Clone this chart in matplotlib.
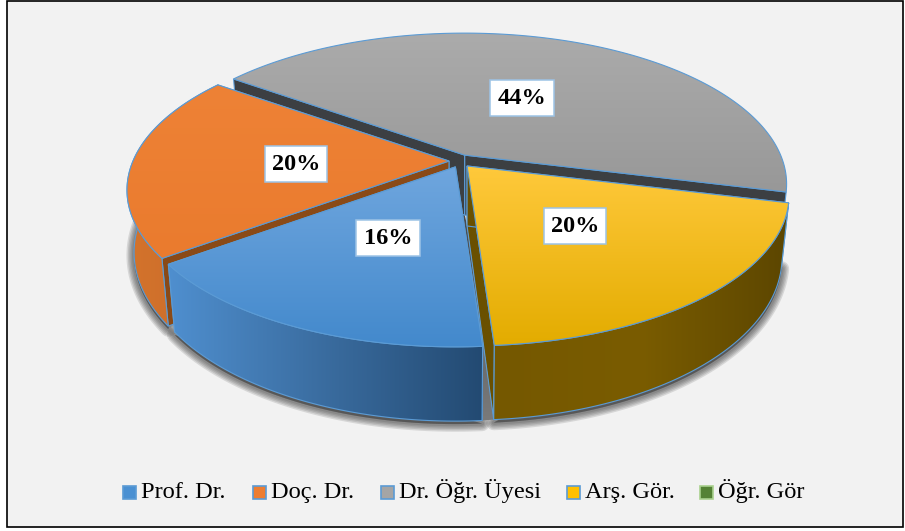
import numpy as np
import matplotlib
matplotlib.use("Agg")
import matplotlib.pyplot as plt
from matplotlib.colors import to_rgb
from matplotlib.patches import Polygon, Rectangle

# Data
categories = ["Prof. Dr.", "Doç. Dr.", "Dr. Öğr. Üyesi", "Arş. Gör.", "Öğr. Gör"]
shares = [16, 20, 44, 20, 0]

# Legend and label layout (pixels)
legend_x = [123, 253, 381, 567, 700]
label_pos = [(388, 238), (296, 164), (522, 98), (575, 226)]
legend_fill = ["#4a90d2", "#ed7d31", "#a5a5a5", "#ffc000", "#548235"]
legend_edge = ["#5b9bd5", "#5b9bd5", "#5b9bd5", "#5b9bd5", "#a9d18e"]

# Colours per slice: top gradient, outer wall gradient, radial face
top_cols = [["#6fa6de", "#4389cc"], ["#ee8236", "#ea7b2e"],
            ["#ababab", "#989898"], ["#ffc93c", "#e3ac00"]]
wall_cols = [["#4f8fcf", "#3a6c9f", "#234a72"], ["#d4732c", "#c86c2a"],
             None, ["#755800", "#7a5c00", "#5c4600"]]
face_cols = ["#234a72", "#8a4a17", "#3c3f42", "#6a5000"]

# Projection of the tilted pie
CX, CY = 460, 161
A, B, P = 316, 145.4, 0.192
DEPTH = 60
BOTTOM_X = 0.978
EXPLODE_X, EXPLODE_Y = 11, 6.5
START = 274

fig = plt.figure(figsize=(9.05, 5.31), dpi=100)
ax = fig.add_axes([0, 0, 1, 1])
ax.axis("off")
fig.patch.set_facecolor("white")


def project(t):
    u, v = np.cos(t), np.sin(t)
    s = 1 / (1 + P * v)
    return A * u * s, -B * v * s, DEPTH * s


def fill_grad(pts, cols, z, vertical=False, edge="#5b9bd5"):
    pts = np.array(pts)
    x0, y0 = pts.min(axis=0)
    x1, y1 = pts.max(axis=0)
    rgb = np.array([to_rgb(c) for c in cols])
    pos = np.linspace(0, 1, len(cols))
    ramp = np.linspace(0, 1, 200)
    arr = np.stack([np.interp(ramp, pos, rgb[:, i]) for i in range(3)], axis=-1)
    arr = arr[:, None, :] if vertical else arr[None, :, :]
    clip = Polygon(pts, closed=True, fc="none", ec="none", zorder=z)
    ax.add_patch(clip)
    im = ax.imshow(arr, extent=[x0, x1, y1, y0], aspect="auto", zorder=z,
                   interpolation="bilinear", origin="upper")
    im.set_clip_path(clip)
    if edge:
        ax.add_patch(Polygon(pts, closed=True, fc="none", ec=edge, lw=0.8, zorder=z + 0.1))


# Background and frame
ax.add_patch(Rectangle((6.5, 0.5), 896, 526.5, fc="#f2f2f2", ec="black", lw=1.2, zorder=0))

# Slice geometry from the shares
total = sum(shares)
angles = START - np.cumsum([0] + shares) / total * 360
slices = []
for i in range(4):
    t0, t1 = np.radians(angles[i]), np.radians(angles[i + 1])
    mid = (t0 + t1) / 2
    cx = CX + EXPLODE_X * np.cos(mid)
    cy = CY - EXPLODE_Y * np.sin(mid)
    ts = np.linspace(t0, t1, 160)
    xs, ys, ds = project(ts)
    slices.append(dict(apex=(cx, cy), x=cx + xs, y=cy + ys, d=ds,
                       bx=cx + xs * BOTTOM_X, by=cy + ys + ds))

# Soft shadow under the pie
for i in [0, 1, 3]:
    s = slices[i]
    outline = np.column_stack([s["bx"], s["by"]])
    for lw in [11, 9, 7, 5, 3]:
        ax.add_patch(Polygon(outline + [0, 3], closed=True, fc="#303030", ec="#303030",
                             lw=lw, alpha=0.14, zorder=1, joinstyle="round"))

# Dark gap between the blue and yellow slices
blue, yellow = slices[0], slices[3]
gap = [blue["apex"], (blue["bx"][0], blue["by"][0]), (yellow["bx"][-1], yellow["by"][-1]),
       (yellow["apex"][0], yellow["apex"][1] + DEPTH)]
fill_grad(gap, ["#3c3f42", "#7a7a7a"], 1.5, vertical=True, edge=None)

# Back to front
z = 2
for i in [2, 1, 3, 0]:
    s = slices[i]
    cx, cy = s["apex"]
    x, y = s["x"], s["y"]
    bx, by = s["bx"], s["by"]
    # radial faces
    for k in [-1, 0]:
        face = [(cx, cy), (x[k], y[k]), (bx[k], by[k]), (cx, cy + DEPTH)]
        fill_grad(face, [face_cols[i], face_cols[i]], z)
        z += 1
    # outer wall
    if wall_cols[i]:
        wall = np.vstack([np.column_stack([x, y]), np.column_stack([bx, by])[::-1]])
        fill_grad(wall, wall_cols[i], z)
        z += 1
    # top
    top = np.vstack([[cx, cy], np.column_stack([x, y])])
    fill_grad(top, top_cols[i], z, vertical=True)
    z += 1

# Percent labels
for share, (lx, ly) in zip(shares, label_pos):
    ax.text(lx, ly, f"{share}%", ha="center", va="center", family="Liberation Serif",
            fontweight="bold", fontsize=17.5, color="black", zorder=z,
            bbox=dict(boxstyle="square,pad=0.3", fc="white", ec="#9dc3e6", lw=1.1))

# Legend
for name, lx, fc, ec in zip(categories, legend_x, legend_fill, legend_edge):
    ax.add_patch(Rectangle((lx, 486), 13, 13, fc=fc, ec=ec, lw=1.2, zorder=z))
    ax.text(lx + 18, 498, name, ha="left", va="baseline", family="Liberation Serif",
            fontsize=17.6, color="black", zorder=z)

ax.set_xlim(0, 905)
ax.set_ylim(531, 0)

fig.savefig("out.png", dpi=100)
